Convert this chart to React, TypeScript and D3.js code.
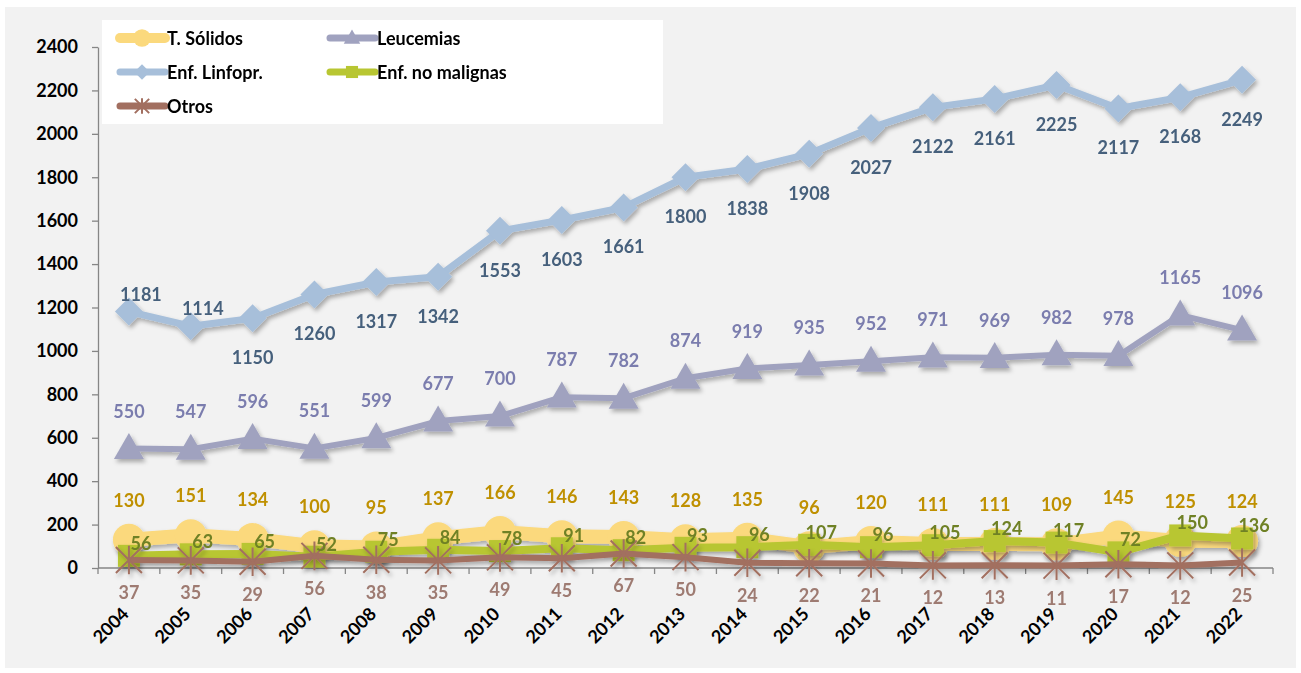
import {useEffect, useRef} from "react";
import * as d3 from "d3";

const years = ["2004", "2005", "2006", "2007", "2008", "2009", "2010", "2011", "2012", "2013",
    "2014", "2015", "2016", "2017", "2018", "2019", "2020", "2021", "2022"];

const solidos = [130, 151, 134, 100, 95, 137, 166, 146, 143, 128, 135, 96, 120, 111, 111, 109, 145, 125, 124];
const leucemias = [550, 547, 596, 551, 599, 677, 700, 787, 782, 874, 919, 935, 952, 971, 969, 982, 978, 1165, 1096];
const linfopr = [1181, 1114, 1150, 1260, 1317, 1342, 1553, 1603, 1661, 1800, 1838, 1908, 2027, 2122, 2161, 2225, 2117, 2168, 2249];
const noMalignas = [56, 63, 65, 52, 75, 84, 78, 91, 82, 93, 96, 107, 96, 105, 124, 117, 72, 150, 136];
const otros = [37, 35, 29, 56, 38, 35, 49, 45, 67, 50, 24, 22, 21, 12, 13, 11, 17, 12, 25];

const yTicks = [0, 200, 400, 600, 800, 1000, 1200, 1400, 1600, 1800, 2000, 2200, 2400];

// where Excel put the Linfopr. labels
const linfoLabelSide = ["top", "top", "bottom", "bottom", "bottom", "bottom", "bottom", "bottom", "bottom", "bottom",
    "bottom", "bottom", "bottom", "bottom", "bottom", "bottom", "bottom", "bottom", "bottom"];

type Marker = "circle" | "triangle" | "diamond" | "square" | "star";

interface Series {
    name: string;
    values: number[];
    line: string;
    label: string;
    width: number;
    marker: Marker;
}

const series: Series[] = [
    {name: "Enf. Linfopr.", values: linfopr, line: "#A7BFDA", label: "#46607C", width: 7, marker: "diamond"},
    {name: "Leucemias", values: leucemias, line: "#A0A2BF", label: "#7B7DAE", width: 6, marker: "triangle"},
    {name: "T. Sólidos", values: solidos, line: "#FBD97D", label: "#BF9000", width: 14, marker: "circle"},
    {name: "Enf. no malignas", values: noMalignas, line: "#B8C632", label: "#6F8125", width: 8, marker: "square"},
    {name: "Otros", values: otros, line: "#A26F60", label: "#9E7B72", width: 6, marker: "star"},
];

const FONT = "Lato, 'Open Sans', sans-serif";

function drawMarker(g: d3.Selection<SVGGElement, unknown, null, undefined>, type: Marker, color: string, s: number) {
    if (type === "circle") {
        g.append("circle").attr("r", 16 * s).attr("fill", color);
    } else if (type === "triangle") {
        const w = 15 * s, h = 26 * s;
        g.append("path").attr("d", `M0,${-h * 0.6}L${w},${h * 0.4}L${-w},${h * 0.4}Z`).attr("fill", color);
    } else if (type === "diamond") {
        const r = 14 * s;
        g.append("path").attr("d", `M0,${-r}L${r},0L0,${r}L${-r},0Z`).attr("fill", color);
    } else if (type === "square") {
        const r = 11 * s;
        g.append("rect").attr("x", -r).attr("y", -r).attr("width", 2 * r).attr("height", 2 * r).attr("fill", color);
    } else {
        const r = 13 * s;
        const p = `M${-r},${-r}L${r},${r}M${r},${-r}L${-r},${r}M0,${-r * 1.1}L0,${r * 1.1}`;
        g.append("path").attr("d", p).attr("stroke", color).attr("stroke-width", 2).attr("fill", "none");
    }
}

export default function App() {
    const ref = useRef<SVGSVGElement>(null);

    useEffect(() => {
        if (!ref.current) return;
        const width = 1301;
        const height = 673;
        const svg = d3.select(ref.current);
        svg.selectAll("*").remove();
        svg.attr("viewBox", [0, 0, width, height]).attr("width", width).attr("height", height);

        const defs = svg.append("defs");
        defs.append("filter").attr("id", "shadow")
            .attr("x", "-20%").attr("y", "-20%").attr("width", "140%").attr("height", "140%")
            .append("feDropShadow")
            .attr("dx", 2).attr("dy", 3).attr("stdDeviation", 2.2)
            .attr("flood-color", "#000").attr("flood-opacity", 0.3);

        // background panel
        svg.append("rect").attr("width", width).attr("height", height).attr("fill", "#ffffff");
        svg.append("rect").attr("x", 5).attr("y", 7).attr("width", 1291).attr("height", 661).attr("fill", "#F2F2F2");

        const x = d3.scaleBand().domain(years).range([98, 1273]);
        const cx = (i: number) => (x(years[i]) as number) + x.bandwidth() / 2;
        const y = d3.scaleLinear().domain([0, 2400]).range([568, 47]);

        // y axis
        const yAxis = svg.append("g")
            .attr("transform", "translate(98,0)")
            .call(d3.axisLeft(y).tickValues(yTicks).tickFormat(d3.format("d")).tickSize(6).tickPadding(14).tickSizeOuter(0));
        yAxis.select(".domain").attr("stroke", "#868686").attr("stroke-width", 1.3);
        yAxis.selectAll(".tick line").attr("stroke", "#868686").attr("stroke-width", 1.3);
        yAxis.selectAll(".tick text").attr("font-family", FONT).attr("font-weight", "bold")
            .attr("font-size", 18).attr("fill", "#000");

        // x axis: ticks between categories
        const xg = svg.append("g");
        xg.append("line").attr("x1", 98).attr("x2", 1273).attr("y1", y(0)).attr("y2", y(0))
            .attr("stroke", "#868686").attr("stroke-width", 1.3);
        xg.selectAll("line.tk").data(d3.range(years.length + 1)).join("line").attr("class", "tk")
            .attr("x1", i => 98 + i * x.step()).attr("x2", i => 98 + i * x.step())
            .attr("y1", y(0)).attr("y2", y(0) + 6)
            .attr("stroke", "#868686").attr("stroke-width", 1.3);
        xg.selectAll("text").data(years).join("text")
            .attr("transform", (d, i) => `translate(${cx(i) + 1},615) rotate(-45)`)
            .attr("text-anchor", "end")
            .attr("font-family", FONT).attr("font-weight", "bold").attr("font-size", 18).attr("fill", "#000")
            .text(d => d);

        // series lines + markers
        for (const s of series) {
            const g = svg.append("g").attr("filter", "url(#shadow)");
            const line = d3.line<number>().x((d, i) => cx(i)).y(d => y(d));
            g.append("path").datum(s.values).attr("d", line)
                .attr("fill", "none").attr("stroke", s.line).attr("stroke-width", s.width)
                .attr("stroke-linejoin", "round");
            s.values.forEach((v, i) => {
                const m = g.append("g").attr("transform", `translate(${cx(i)},${y(v)})`);
                drawMarker(m, s.marker, s.line, 1);
            });
        }

        // data labels
        const labels = svg.append("g")
            .attr("font-family", FONT).attr("font-weight", "bold").attr("font-size", 18)
            .attr("text-anchor", "middle").attr("dominant-baseline", "central");
        for (const s of series) {
            s.values.forEach((v, i) => {
                let dx = 0, dy = 0;
                if (s.marker === "diamond") {
                    if (linfoLabelSide[i] === "top") { dx = 12; dy = -18; } else dy = 39;
                }
                else if (s.marker === "triangle") dy = -38;
                else if (s.marker === "circle") dy = -40;
                else if (s.marker === "square") { dx = 12; dy = -13; }
                else dy = 32;
                labels.append("text")
                    .attr("x", cx(i) + dx).attr("y", y(v) + dy)
                    .attr("fill", s.label)
                    .text(v);
            });
        }

        // legend
        const lg = svg.append("g");
        lg.append("rect").attr("x", 102).attr("y", 20).attr("width", 561).attr("height", 104).attr("fill", "#fff");
        const legendOrder = ["T. Sólidos", "Leucemias", "Enf. Linfopr.", "Enf. no malignas", "Otros"];
        legendOrder.forEach((name, k) => {
            const s = series.find(d => d.name === name)!;
            const col = k % 2, row = Math.floor(k / 2);
            const lx = col === 0 ? 120 : 330;
            const ly = 38 + row * 34;
            const e = lg.append("g");
            e.append("line").attr("x1", lx).attr("x2", lx + 45).attr("y1", ly).attr("y2", ly)
                .attr("stroke", s.line).attr("stroke-width", s.marker === "circle" ? 10 : 7)
                .attr("stroke-linecap", "round");
            const m = e.append("g").attr("transform", `translate(${lx + 22},${ly})`);
            drawMarker(m, s.marker, s.line, 0.55);
            e.append("text").attr("x", lx + 47).attr("y", ly).attr("dominant-baseline", "central")
                .attr("font-family", FONT).attr("font-weight", "bold").attr("font-size", 18).attr("fill", "#000")
                .text(name);
        });
    }, []);

    return (
        <svg ref={ref} style={{position: "absolute", left: 0, top: 0, display: "block"}}/>
    );
}
